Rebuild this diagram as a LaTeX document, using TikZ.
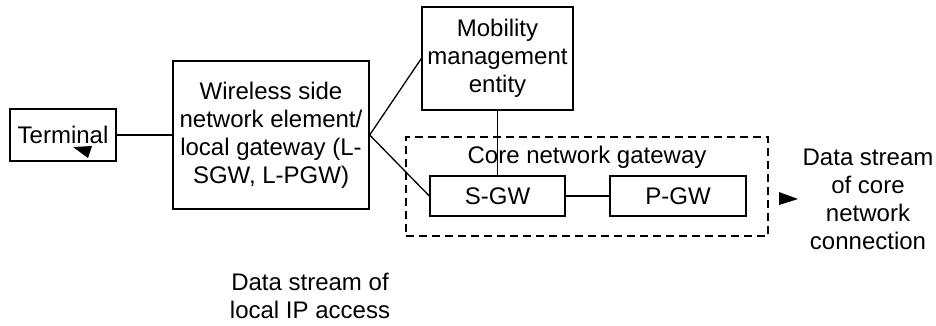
\documentclass[tikz,border=0pt]{standalone}
\usepackage{fontspec}
\setmainfont{Liberation Sans}
\usepackage{tikz}
\usetikzlibrary{positioning}

\tikzset{
  box/.style={draw, inner sep=0pt, align=center},
  lbl/.style={inner sep=0pt, align=center}
}

\begin{document}
\begin{tikzpicture}[x=1pt, y=-1pt, line width=1.3pt,
    every node/.style={font=\fontsize{24}{28}\selectfont}]
  \useasboundingbox (0,0) rectangle (936,325);

  \node(term)[box, minimum width=106pt, minimum height=52pt] 
    at (63,135) {Terminal};

  \node(wse)[box, minimum width=196pt, minimum height=148pt] 
    at (271,135)
  {Wireless side\\network element/\\local gateway (L-\\SGW, L-PGW)};

  \node(mme)[box, minimum width=151pt, minimum height=103pt] 
    at (497.5,58.5) {Mobility\\management\\entity};

  \node(cngw)[draw, dash pattern=on 8pt off 5pt, 
              minimum width=362pt, minimum height=99pt]
    at (587,186.5) {};
  \node(cnlbl)[lbl] at (587,157) {Core network gateway};

  \node(sgw)[box, minimum width=135pt, minimum height=40pt]
    at (497.5,196) {S-GW};
  \node(pgw)[box, minimum width=136pt, minimum height=40pt]
    at (678,196) {P-GW};

  \node(core)[lbl] at (868,199)
  {Data stream\\of core\\network\\connection};
  \node(local)[lbl] at (310,296) {Data stream of\\local IP access};

  \draw (term) -- (wse);
  \draw (wse.east) -- (mme.west);
  \draw (wse.east) -- (sgw.west);
  \draw (mme) -- (sgw);
  \draw (sgw) -- (pgw);

  % arrow heads
  \fill (73,147) -- (92,146) -- (88,158) -- cycle;
  \fill (779,192) -- (798,199) -- (779,205) -- cycle;

\end{tikzpicture}
\end{document}
